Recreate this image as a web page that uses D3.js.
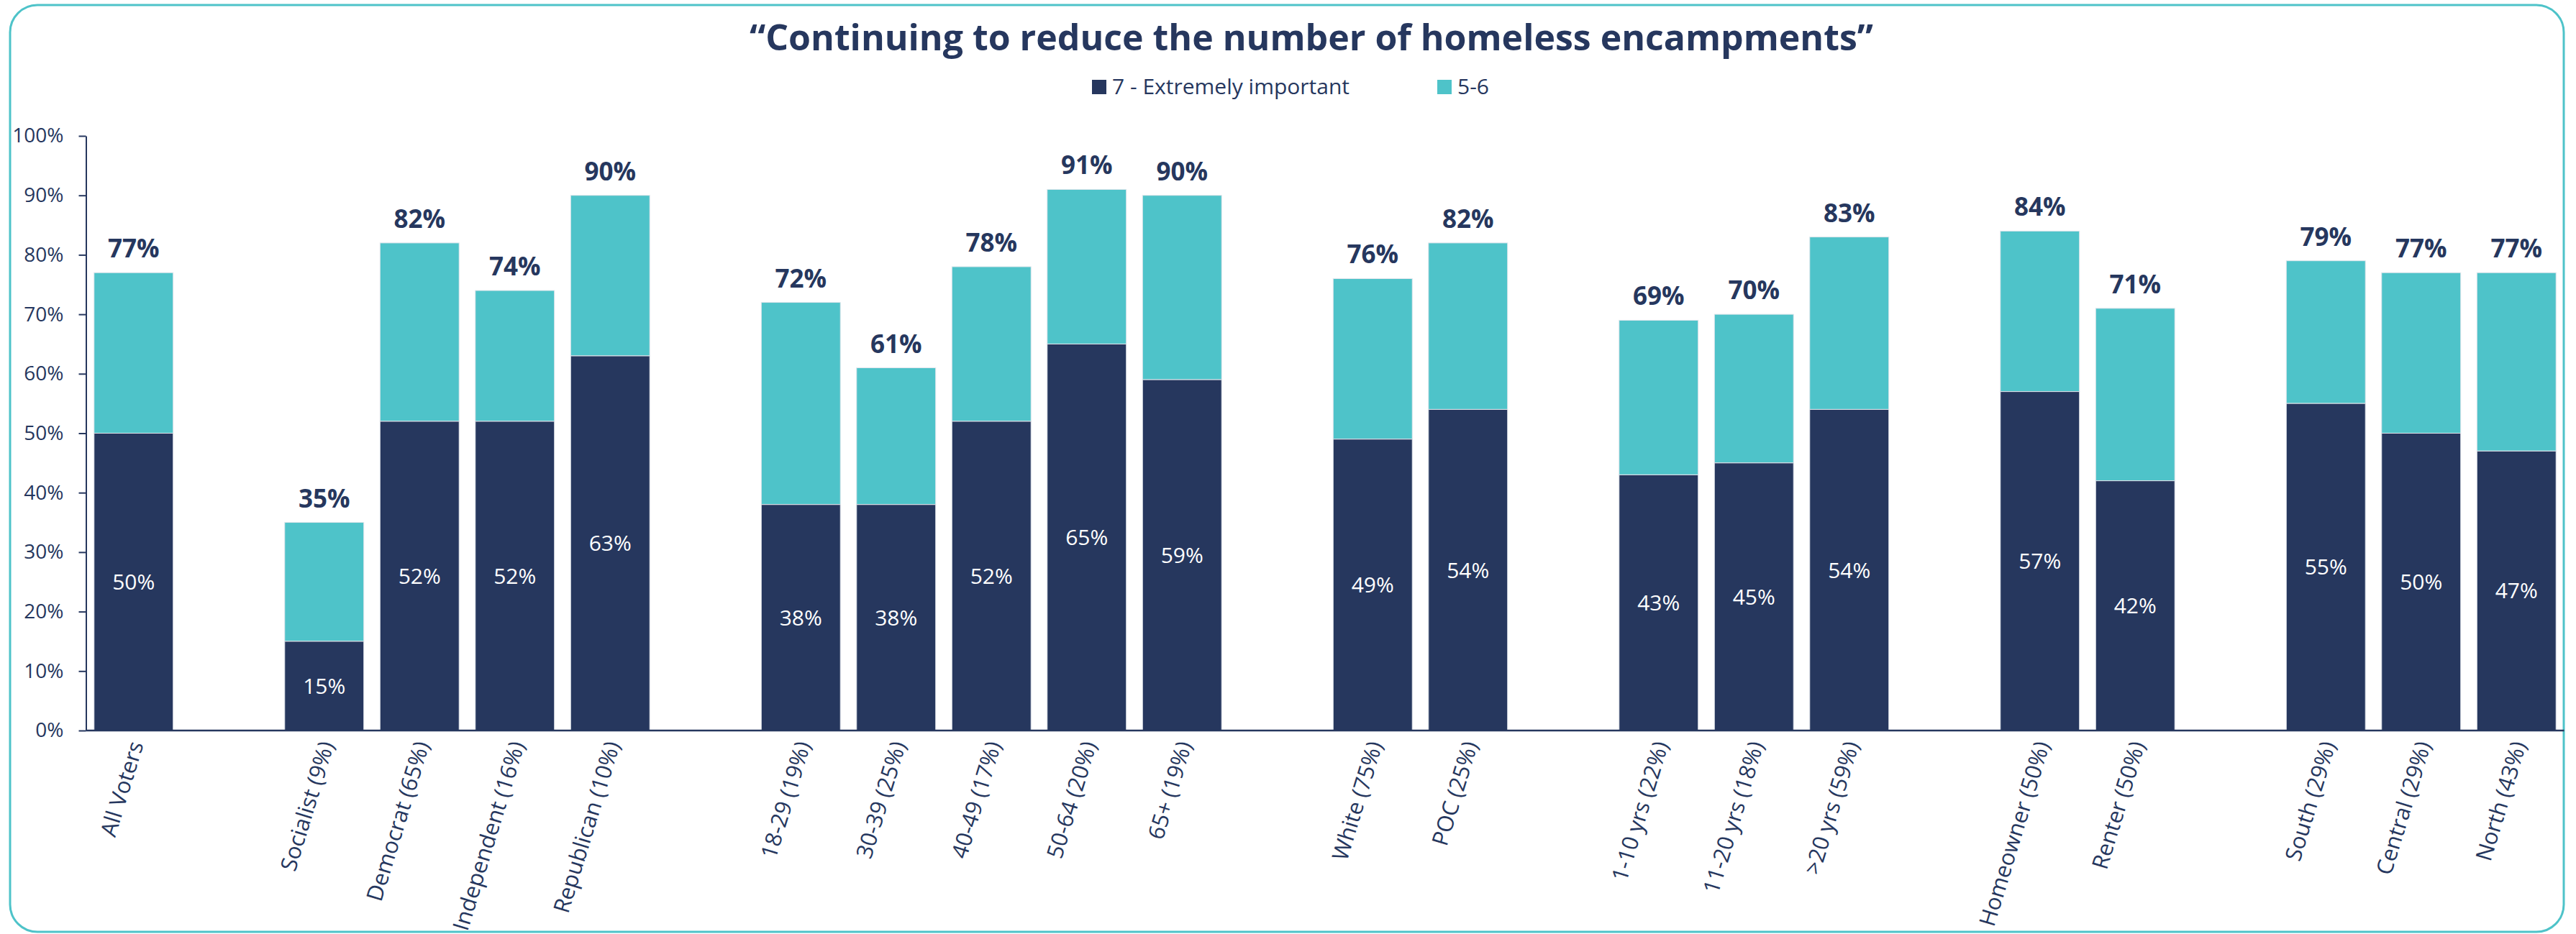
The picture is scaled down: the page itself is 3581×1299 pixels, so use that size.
<!DOCTYPE html>
<html>
<head>
<meta charset="utf-8">
<script src="https://cdn.jsdelivr.net/npm/d3@7/dist/d3.min.js"></script>
<style>
    html, body { margin: 0; padding: 0; background: #ffffff; }
    svg text { font-family: "Open Sans", "DejaVu Sans", sans-serif; }
</style>
</head>
<body>
<svg id="chart" width="3581" height="1299"></svg>
<script>
// empty strings are the blank spacer columns between groups
var categories = [
    "All Voters", "",
    "Socialist (9%)", "Democrat (65%)", "Independent (16%)", "Republican (10%)", "",
    "18-29 (19%)", "30-39 (25%)", "40-49 (17%)", "50-64 (20%)", "65+ (19%)", "",
    "White (75%)", "POC (25%)", "",
    "1-10 yrs (22%)", "11-20 yrs (18%)", ">20 yrs (59%)", "",
    "Homeowner (50%)", "Renter (50%)", "",
    "South (29%)", "Central (29%)", "North (43%)"
];
// "7 - Extremely important" share, in percent
var extremelyImportant = [
    50, null,
    15, 52, 52, 63, null,
    38, 38, 52, 65, 59, null,
    49, 54, null,
    43, 45, 54, null,
    57, 42, null,
    55, 50, 47
];
// 5-7 total (label on top of each bar)
var totalImportant = [
    77, null,
    35, 82, 74, 90, null,
    72, 61, 78, 91, 90, null,
    76, 82, null,
    69, 70, 83, null,
    84, 71, null,
    79, 77, 77
];
var yTicks = [0, 10, 20, 30, 40, 50, 60, 70, 80, 90, 100];
var seriesNames = ["7 - Extremely important", "5-6"];

var chartTitle = "\u201CContinuing to reduce the number of homeless encampments\u201D";
var navy = "#26375e";
var teal = "#4ec3c9";

var svg = d3.select("#chart");

// rounded frame
svg.append("rect")
    .attr("x", 14).attr("y", 7)
    .attr("width", 3550).attr("height", 1289)
    .attr("rx", 38).attr("ry", 38)
    .attr("fill", "#ffffff")
    .attr("stroke", teal)
    .attr("stroke-width", 3);

svg.append("text")
    .attr("x", 1823).attr("y", 70)
    .attr("text-anchor", "middle")
    .attr("font-size", 50)
    .attr("font-weight", 700)
    .attr("fill", navy)
    .text(chartTitle);

// legend
var legendX = [1518, 1998];
var legend = svg.selectAll(".legend").data(seriesNames).enter().append("g")
    .attr("class", "legend")
    .attr("transform", function (d, i) { return "translate(" + legendX[i] + ",111)"; });
legend.append("rect")
    .attr("width", 20).attr("height", 20)
    .attr("fill", function (d, i) { return i === 0 ? navy : teal; });
legend.append("text")
    .attr("x", 28).attr("y", 20)
    .attr("font-size", 30)
    .attr("fill", navy)
    .text(function (d) { return d; });

var xScale = d3.scaleBand()
    .domain(d3.range(categories.length))
    .range([119.5, 3564.5])
    .paddingInner(0.17)
    .paddingOuter(0.085);
var yScale = d3.scaleLinear().domain([0, 100]).range([1016, 189]);

// y axis
var yAxis = svg.append("g")
    .attr("transform", "translate(119.5,0)")
    .call(d3.axisLeft(yScale).tickValues(yTicks)
        .tickFormat(function (d) { return d + "%"; })
        .tickSize(10).tickSizeOuter(0).tickPadding(21));
yAxis.select(".domain").attr("stroke", navy).attr("stroke-width", 2);
yAxis.selectAll(".tick line").attr("stroke", navy).attr("stroke-width", 2);
yAxis.selectAll(".tick text")
    .attr("font-size", 28)
    .attr("font-family", "Open Sans, sans-serif")
    .attr("fill", navy);

// stacked bars
var rows = d3.range(categories.length)
    .filter(function (i) { return extremelyImportant[i] !== null; })
    .map(function (i) { return { i: i, top7: extremelyImportant[i], total: totalImportant[i] }; });

var bar = svg.selectAll(".bar").data(rows).enter().append("g")
    .attr("class", "bar")
    .attr("transform", function (d) { return "translate(" + xScale(d.i) + ",0)"; });

bar.append("rect")
    .attr("y", function (d) { return yScale(d.total); })
    .attr("width", xScale.bandwidth())
    .attr("height", function (d) { return yScale(d.top7) - yScale(d.total); })
    .attr("fill", teal)
    .attr("stroke", "#e2e6ec").attr("stroke-width", 1);

bar.append("rect")
    .attr("y", function (d) { return yScale(d.top7); })
    .attr("width", xScale.bandwidth())
    .attr("height", function (d) { return yScale(0) - yScale(d.top7); })
    .attr("fill", navy)
    .attr("stroke", "#e2e6ec").attr("stroke-width", 1);

bar.append("text")
    .attr("x", xScale.bandwidth() / 2)
    .attr("y", function (d) { return (yScale(0) + yScale(d.top7)) / 2; })
    .attr("dy", "0.36em")
    .attr("text-anchor", "middle")
    .attr("font-size", 30)
    .attr("fill", "#ffffff")
    .text(function (d) { return d.top7 + "%"; });

bar.append("text")
    .attr("x", xScale.bandwidth() / 2)
    .attr("y", function (d) { return yScale(d.total) - 21; })
    .attr("text-anchor", "middle")
    .attr("font-size", 35)
    .attr("font-weight", 700)
    .attr("fill", navy)
    .text(function (d) { return d.total + "%"; });

// x axis with slanted category labels
var xAxis = svg.append("g")
    .attr("transform", "translate(0,1016)")
    .call(d3.axisBottom(xScale).tickSize(0)
        .tickFormat(function (i) { return categories[i]; }));
xAxis.select(".domain")
    .attr("d", "M119.5,0H3564.5")
    .attr("stroke", navy).attr("stroke-width", 2.5);
xAxis.selectAll(".tick text")
    .attr("x", 0).attr("y", 0).attr("dy", null)
    .attr("transform", "translate(14,19) rotate(-73)")
    .attr("text-anchor", "end")
    .attr("font-size", 31)
    .attr("font-family", "Open Sans, sans-serif")
    .attr("fill", navy);
</script>
</body>
</html>
